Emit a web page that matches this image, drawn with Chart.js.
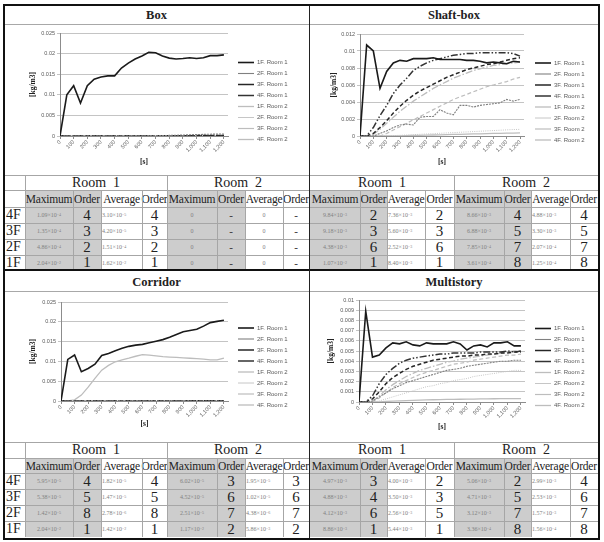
<!DOCTYPE html>
<html><head><meta charset="utf-8">
<script src="https://cdn.jsdelivr.net/npm/chart.js@4.4.0/dist/chart.umd.min.js"></script>
<style>
html,body{margin:0;padding:0;background:#fff;}
body{width:604px;height:542px;position:relative;overflow:hidden;font-family:"Liberation Serif","Times New Roman",serif;color:#222;}
.a{position:absolute;box-sizing:border-box;}
.t{position:absolute;font-family:"Liberation Serif",serif;font-weight:bold;font-size:12.5px;text-align:center;line-height:20px;}
.c{position:absolute;box-sizing:border-box;display:flex;align-items:center;justify-content:center;white-space:nowrap;overflow:visible;font-family:"Liberation Serif",serif;}
.v{font-size:6px;color:#808080;opacity:0.99;}
.v sup{font-size:4px;vertical-align:3px;line-height:0;}
.va{justify-content:flex-start;padding-left:1px;}
.o{font-size:15px;color:#222;}
.h{font-size:11.5px;color:#222;letter-spacing:-0.2px;}
.r{font-size:14px;color:#222;}
.rl{font-size:14px;color:#222;justify-content:flex-start;padding-left:2px;}
</style>
</head><body>
<script>
// ---------------- data ----------------
const T = [0,50,100,150,200,250,300,350,400,450,500,550,600,650,700,750,800,850,900,950,1000,1050,1100,1150,1200];
const XT = [0,100,200,300,400,500,600,700,800,900,1000,1100,1200];
const NAMES = ['1F. Room 1','2F. Room 1','3F. Room 1','4F. Room 1','1F. Room 2','2F. Room 2','3F. Room 2','4F. Room 2'];

// Box
const BOX_YT = [0,0.005,0.01,0.015,0.02,0.025];
const box_1F_R1 = [0,0.0100,0.0122,0.0080,0.0122,0.0138,0.0143,0.0146,0.0146,0.0165,0.0177,0.0187,0.0194,0.0203,0.0202,0.0194,0.0189,0.0187,0.0188,0.0190,0.0188,0.0190,0.0195,0.0195,0.0197];
const box_2F_R1 = [0,0,0,0,0,0,0,0,0,0,0,0,0.00001,0.00003,0.00006,0.0001,0.00014,0.00019,0.00024,0.0003,0.00035,0.0004,0.00044,0.00047,0.00049];
const box_3F_R1 = [0,0,0,0,0,0,0,0,0,0,0,0,0,0.00001,0.00002,0.00003,0.00005,0.00006,0.00008,0.00009,0.0001,0.00011,0.00012,0.00013,0.000135];
const box_4F_R1 = [0,0,0,0,0,0,0,0,0,0,0,0,0,0,0.00001,0.00002,0.00003,0.00004,0.00005,0.00006,0.00007,0.00008,0.00009,0.0001,0.000109];
const box_1F_R2 = [0,0,0,0,0,0,0,0,0,0,0,0,0,0,0,0,0,0,0,0,0,0,0,0,0];
const box_2F_R2 = [0,0,0,0,0,0,0,0,0,0,0,0,0,0,0,0,0,0,0,0,0,0,0,0,0];
const box_3F_R2 = [0,0,0,0,0,0,0,0,0,0,0,0,0,0,0,0,0,0,0,0,0,0,0,0,0];
const box_4F_R2 = [0,0,0,0,0,0,0,0,0,0,0,0,0,0,0,0,0,0,0,0,0,0,0,0,0];

// Shaft-box
const SH_YT = [0,0.002,0.004,0.006,0.008,0.01,0.012];
const sh_1F_R1 = [0,0.0107,0.0100,0.0056,0.0076,0.0086,0.0089,0.0088,0.0091,0.0091,0.0091,0.0092,0.0090,0.0090,0.0090,0.0090,0.0089,0.0089,0.0088,0.0086,0.0087,0.0086,0.0085,0.0088,0.0087];
const sh_2F_R1 = [0,0,0,0.0003,0.0006,0.0010,0.0013,0.0014,0.0013,0.0022,0.0023,0.0023,0.0031,0.0027,0.0025,0.0036,0.0036,0.0034,0.0036,0.0037,0.0038,0.0039,0.0043,0.0041,0.0043];
const sh_3F_R1 = [0,0,0.0003,0.0010,0.0018,0.0027,0.0035,0.0042,0.0048,0.0053,0.0057,0.0061,0.0065,0.0069,0.0072,0.0075,0.0078,0.0080,0.0082,0.0084,0.0085,0.0087,0.0089,0.0091,0.0092];
const sh_4F_R1 = [0,0,0.0010,0.0024,0.0036,0.0050,0.0060,0.0068,0.0077,0.0082,0.0086,0.0089,0.0091,0.0093,0.0095,0.0096,0.0097,0.0097,0.0098,0.0098,0.0098,0.0098,0.0098,0.0097,0.0094];
const sh_1F_R2 = [0,0,0,0,0,0.00001,0.00002,0.00004,0.00006,0.00008,0.0001,0.00012,0.00014,0.00016,0.00018,0.0002,0.00022,0.00024,0.00026,0.00028,0.0003,0.00031,0.00033,0.00035,0.00036];
const sh_2F_R2 = [0,0,0,0,0.00002,0.00005,0.00008,0.00012,0.00016,0.0002,0.00024,0.00028,0.00032,0.00036,0.0004,0.00044,0.00048,0.00052,0.00056,0.0006,0.00064,0.00068,0.00072,0.00076,0.00078];
const sh_3F_R2 = [0,0,0,0,0.0003,0.0007,0.0011,0.0015,0.0019,0.0023,0.0027,0.0031,0.0035,0.0039,0.0043,0.0046,0.0049,0.0052,0.0055,0.0058,0.0060,0.0062,0.0064,0.0067,0.0069];
const sh_4F_R2 = [0,0,0.0002,0.0008,0.0015,0.0022,0.0029,0.0035,0.0041,0.0046,0.0051,0.0056,0.0060,0.0064,0.0068,0.0071,0.0074,0.0077,0.0079,0.0081,0.0083,0.0084,0.0085,0.0086,0.0087];

// Corridor
const COR_YT = [0,0.005,0.01,0.015,0.02,0.025];
const cor_1F_R1 = [0,0.0105,0.0116,0.0074,0.0082,0.0093,0.0115,0.0120,0.0127,0.0133,0.0138,0.0141,0.0143,0.0147,0.0151,0.0155,0.0161,0.0168,0.0175,0.0178,0.0181,0.0189,0.0198,0.0201,0.0204];
const cor_2F_R1 = [0,0,0,0,0,0,0,0,0,0,0,0,0,0,0,0,0.000001,0.000002,0.000004,0.000006,0.000008,0.00001,0.000012,0.000013,0.0000142];
const cor_3F_R1 = [0,0,0,0,0,0,0,0,0,0,0,0,0.000002,0.000004,0.000007,0.00001,0.000014,0.000018,0.000023,0.000028,0.000033,0.000039,0.000045,0.00005,0.0000538];
const cor_4F_R1 = [0,0,0,0,0,0,0,0,0,0,0,0,0.000002,0.000005,0.000008,0.000012,0.000016,0.000021,0.000026,0.000032,0.000038,0.000044,0.00005,0.000055,0.0000595];
const cor_1F_R2 = [0,0,0.0003,0.0015,0.0035,0.0057,0.0078,0.0090,0.0099,0.0104,0.0108,0.0113,0.0117,0.0116,0.0114,0.0112,0.0111,0.0110,0.0109,0.0108,0.0107,0.0106,0.0104,0.0104,0.0108];
const cor_2F_R2 = [0,0,0,0,0,0,0,0,0,0,0,0,0,0,0.000002,0.000004,0.000006,0.000008,0.00001,0.000013,0.000016,0.000019,0.000022,0.000024,0.0000251];
const cor_3F_R2 = [0,0,0,0,0,0,0,0,0,0,0,0.000001,0.000003,0.000005,0.000008,0.000011,0.000015,0.000019,0.000023,0.000028,0.000033,0.000037,0.000041,0.000044,0.0000452];
const cor_4F_R2 = [0,0,0,0,0,0,0,0,0,0,0,0.000002,0.000004,0.000007,0.00001,0.000014,0.000019,0.000024,0.000029,0.000035,0.000041,0.000047,0.000053,0.000058,0.0000602];

// Multistory
const MS_YT = [0,0.001,0.002,0.003,0.004,0.005,0.006,0.007,0.008,0.009,0.01];
const ms_1F_R1 = [0,0.0089,0.0044,0.0046,0.0053,0.0058,0.0057,0.0059,0.0056,0.0055,0.0058,0.0057,0.0057,0.0057,0.0059,0.0057,0.0051,0.0055,0.0056,0.0054,0.0058,0.0058,0.0059,0.0055,0.0055];
const ms_2F_R1 = [0,0,0.0001,0.0005,0.0009,0.0013,0.0016,0.0019,0.0021,0.0023,0.0025,0.0027,0.0029,0.0031,0.0032,0.0033,0.0035,0.0036,0.0037,0.0038,0.0039,0.0040,0.0040,0.0041,0.0041];
const ms_3F_R1 = [0,0,0.0003,0.0010,0.0018,0.0024,0.0028,0.0032,0.0035,0.0037,0.0039,0.0041,0.0042,0.0043,0.0044,0.0045,0.0045,0.0046,0.0046,0.0047,0.0047,0.0048,0.0048,0.0049,0.0049];
const ms_4F_R1 = [0,0,0.0006,0.0018,0.0027,0.0033,0.0038,0.0041,0.0043,0.0044,0.0045,0.0046,0.0047,0.0047,0.0048,0.0048,0.0048,0.0048,0.0049,0.0049,0.0049,0.0049,0.0050,0.0049,0.0050];
const ms_1F_R2 = [0,0,0,0.00002,0.00005,0.00008,0.00011,0.00014,0.00016,0.00018,0.0002,0.00022,0.00024,0.00025,0.00026,0.00027,0.00028,0.00029,0.0003,0.00031,0.00032,0.00033,0.00033,0.00034,0.00034];
const ms_2F_R2 = [0,0,0,0.0001,0.0003,0.0005,0.0007,0.0009,0.0011,0.0013,0.0015,0.0016,0.0018,0.0019,0.0021,0.0022,0.0023,0.0025,0.0026,0.0027,0.0028,0.0029,0.0030,0.0031,0.0031];
const ms_3F_R2 = [0,0,0,0.0004,0.0009,0.0014,0.0018,0.0021,0.0024,0.0027,0.0029,0.0031,0.0033,0.0035,0.0037,0.0038,0.0039,0.0041,0.0042,0.0043,0.0044,0.0045,0.0046,0.0046,0.0047];
const ms_4F_R2 = [0,0,0.0001,0.0006,0.0012,0.0017,0.0021,0.0025,0.0028,0.0031,0.0033,0.0035,0.0037,0.0039,0.0040,0.0042,0.0043,0.0044,0.0045,0.0046,0.0047,0.0048,0.0049,0.0050,0.0050];

// Tables (rows: 4F, 3F, 2F, 1F)
const FLOORS = ['4F','3F','2F','1F'];
const box_R1_max = [1.09e-4,1.35e-4,4.86e-4,2.04e-2], box_R1_maxOrd = [4,3,2,1];
const box_R1_avg = [3.10e-5,4.20e-5,1.51e-4,1.62e-2], box_R1_avgOrd = [4,3,2,1];
const box_R2_max = [0,0,0,0], box_R2_maxOrd = ['-','-','-','-'];
const box_R2_avg = [0,0,0,0], box_R2_avgOrd = ['-','-','-','-'];
const sh_R1_max = [9.84e-3,9.18e-3,4.38e-3,1.07e-2], sh_R1_maxOrd = [2,3,6,1];
const sh_R1_avg = [7.36e-3,5.60e-3,2.52e-3,8.40e-3], sh_R1_avgOrd = [2,3,6,1];
const sh_R2_max = [8.66e-3,6.88e-3,7.85e-4,3.61e-4], sh_R2_maxOrd = [4,5,7,8];
const sh_R2_avg = [4.88e-3,3.30e-3,2.07e-4,1.25e-4], sh_R2_avgOrd = [4,5,7,8];
const cor_R1_max = [5.95e-5,5.38e-5,1.42e-5,2.04e-2], cor_R1_maxOrd = [4,5,8,1];
const cor_R1_avg = [1.82e-5,1.47e-5,2.78e-6,1.42e-2], cor_R1_avgOrd = [4,5,8,1];
const cor_R2_max = [6.02e-5,4.52e-5,2.51e-5,1.17e-2], cor_R2_maxOrd = [3,6,7,2];
const cor_R2_avg = [1.95e-5,1.02e-5,4.38e-6,5.86e-3], cor_R2_avgOrd = [3,6,7,2];
const ms_R1_max = [4.97e-3,4.88e-3,4.12e-3,8.86e-3], ms_R1_maxOrd = [3,4,6,1];
const ms_R1_avg = [4.00e-3,3.50e-3,2.56e-3,5.44e-3], ms_R1_avgOrd = [2,3,5,1];
const ms_R2_max = [5.06e-3,4.71e-3,3.12e-3,3.36e-4], ms_R2_maxOrd = [2,5,7,8];
const ms_R2_avg = [2.99e-3,2.53e-3,1.57e-3,1.56e-4], ms_R2_avgOrd = [4,6,7,8];

// ---------------- styles ----------------
const STY = [
  {c:'#1a1a1a', w:1.6, d:[]},
  {c:'#808080', w:1.1, d:[2,1]},
  {c:'#262626', w:1.5, d:[4,2.5]},
  {c:'#333333', w:1.5, d:[7,2,1.5,2,1.5,2]},
  {c:'#bdbdbd', w:1.3, d:[]},
  {c:'#c6c6c6', w:1.0, d:[1,1.2]},
  {c:'#bdbdbd', w:1.2, d:[4,2.5]},
  {c:'#bdbdbd', w:1.3, d:[7,2,1.5,2]}
];
const LEGW = 70;

Chart.defaults.font.family = '"Liberation Sans", Arial, sans-serif';

function makeChart(rect, yMax, YT, series, lay) {
  const cv = document.createElement('canvas');
  cv.width = rect.w; cv.height = rect.h;
  cv.style.cssText = 'position:absolute;left:'+rect.x+'px;top:'+rect.y+'px;width:'+rect.w+'px;height:'+rect.h+'px;';
  document.body.appendChild(cv);
  const legendFix = {
    id: 'legendFix',
    beforeUpdate(chart) {
      const lg = chart.legend;
      if (lg && !lg._fixed) {
        const f = lg.fit;
        lg.fit = function() { f.apply(this, arguments); this.width = LEGW; };
        lg._fixed = true;
      }
    },
    afterLayout(chart) {
      const lg = chart.legend;
      if (lg) { lg.left += lay.gap; lg.right += lay.gap; }
    }
  };
  new Chart(cv, {
    type: 'line',
    data: { datasets: series.map((s, i) => ({
      label: NAMES[i],
      data: T.map((t, k) => ({x: t, y: s[k]})),
      borderColor: STY[i].c, backgroundColor: STY[i].c,
      borderWidth: STY[i].w, borderDash: STY[i].d,
      pointRadius: 0, pointStyle: 'line', tension: 0, fill: false
    })) },
    plugins: [legendFix],
    options: {
      responsive: false, animation: false, devicePixelRatio: 1,
      layout: { padding: { top: lay.padTop, right: lay.padRight, left: 0, bottom: 0 } },
      plugins: {
        legend: { position: 'right', align: 'center',
          labels: { usePointStyle: true, pointStyleWidth: 16, boxHeight: 6, padding: 5, color: '#595959', font: { size: 6 } } },
        tooltip: { enabled: false }
      },
      scales: {
        x: { type: 'linear', min: 0, max: 1230,
          afterBuildTicks: s => { s.ticks = XT.map(v => ({value: v})); },
          ticks: { autoSkip: false, maxRotation: 45, minRotation: 45, color: '#595959', font: { size: 5.5 }, padding: 0,
            callback: v => Number(v).toLocaleString('en-US') },
          grid: { display: true, drawOnChartArea: false, drawTicks: true, tickLength: 3, color: '#8c8c8c' },
          border: { color: '#8c8c8c' },
          title: { display: true, text: '[s]', color: '#222', font: { family: '"Liberation Serif", serif', weight: 'bold', size: 7.5 }, padding: { top: 0, bottom: 2 } },
          afterFit: s => { s.height = lay.xH; }
        },
        y: { min: 0, max: yMax,
          afterBuildTicks: s => { s.ticks = YT.map(v => ({value: v})); },
          ticks: { color: '#595959', font: { size: 5.5 }, padding: 2, callback: v => String(+Number(v).toFixed(4)) },
          grid: { color: '#c4c4c4', tickLength: 3 },
          border: { color: '#8c8c8c' },
          title: { display: true, text: '[kg/m3]', color: '#222', font: { family: '"Liberation Serif", serif', weight: 'bold', size: 7.5 }, padding: { top: lay.yTitlePad, bottom: 0 } },
          afterFit: s => { s.width = lay.yW; }
        }
      }
    }
  });
}

// ---------------- frame & titles ----------------
function div(cls, css, html) {
  const d = document.createElement('div');
  d.className = cls; d.style.cssText = css; if (html !== undefined) d.innerHTML = html;
  document.body.appendChild(d); return d;
}
function hline(x1, x2, y, col, w) { div('a', 'left:'+x1+'px;top:'+y+'px;width:'+(x2-x1)+'px;height:'+(w||1)+'px;background:'+col+';'); }
function vline(x, y1, y2, col, w) { div('a', 'left:'+x+'px;top:'+y1+'px;width:'+(w||1)+'px;height:'+(y2-y1)+'px;background:'+col+';'); }

div('t', 'left:4px;top:5px;width:305px;', 'Box');
div('t', 'left:310px;top:5px;width:288px;', 'Shaft-box');
div('t', 'left:4px;top:272px;width:305px;', 'Corridor');
div('t', 'left:310px;top:272px;width:288px;', 'Multistory');
hline(4, 598, 24, '#a8a8a8');
hline(4, 598, 291, '#a8a8a8');

// ---------------- charts ----------------
makeChart({x:5, y:26, w:300, h:143}, 0.025, BOX_YT,
  [box_1F_R1, box_2F_R1, box_3F_R1, box_4F_R1, box_1F_R2, box_2F_R2, box_3F_R2, box_4F_R2],
  {padTop:7, padRight:7, xH:33, yW:55, gap:5, yTitlePad:23.5});
makeChart({x:311, y:26, w:286, h:143}, 0.012, SH_YT,
  [sh_1F_R1, sh_2F_R1, sh_3F_R1, sh_4F_R1, sh_1F_R2, sh_2F_R2, sh_3F_R2, sh_4F_R2],
  {padTop:8, padRight:3, xH:33, yW:49, gap:6, yTitlePad:18.5});
makeChart({x:5, y:293, w:300, h:138}, 0.025, COR_YT,
  [cor_1F_R1, cor_2F_R1, cor_3F_R1, cor_4F_R1, cor_1F_R2, cor_2F_R2, cor_3F_R2, cor_4F_R2],
  {padTop:9, padRight:7, xH:30, yW:56, gap:5, yTitlePad:23.5});
makeChart({x:311, y:293, w:286, h:141}, 0.01, MS_YT,
  [ms_1F_R1, ms_2F_R1, ms_3F_R1, ms_4F_R1, ms_1F_R2, ms_2F_R2, ms_3F_R2, ms_4F_R2],
  {padTop:7, padRight:2, xH:32, yW:48, gap:5, yTitlePad:15.5});

// ---------------- tables ----------------
function fmt(v) {
  if (v === 0) return '0';
  const p = v.toExponential(2).split('e');
  return p[0] + '\u00d710<sup>\u2212' + String(Math.abs(+p[1])) + '</sup>';
}
const GRAY = '#cdcdcd', LINE = '#a6a6a6';
const DASH = '<b style="font-size:11px;color:#444">-</b>';
function cell(x1, x2, y1, y2, cls, html, bg) {
  div('c ' + cls, 'left:'+x1+'px;top:'+y1+'px;width:'+(x2-x1)+'px;height:'+(y2-y1)+'px;' + (bg ? 'background:'+bg+';' : ''), html);
}
function buildTable(cols, ry, label, groups) {
  const off = label ? 1 : 0;
  const xL = cols[0], xR = cols[cols.length-1];
  groups.forEach((g, gi) => {
    const b = off + gi*4;
    cell(cols[b], cols[b+4], ry[0], ry[1], 'r', 'Room&nbsp; ' + (gi+1));
    ['Maximum','Order','Average','Order'].forEach((h, k) => {
      cell(cols[b+k], cols[b+k+1], ry[1], ry[2], 'h', h, k < 2 ? GRAY : null);
    });
    for (let r = 0; r < 4; r++) {
      const y1 = ry[r+2], y2 = ry[r+3];
      cell(cols[b], cols[b+1], y1, y2, 'v', fmt(g.max[r]), GRAY);
      cell(cols[b+1], cols[b+2], y1, y2, 'o', g.maxOrd[r] === '-' ? DASH : g.maxOrd[r], GRAY);
      cell(cols[b+2], cols[b+3], y1, y2, g.avg[r] === 0 ? 'v' : 'v va', fmt(g.avg[r]));
      cell(cols[b+3], cols[b+4], y1, y2, 'o', g.avgOrd[r] === '-' ? DASH : g.avgOrd[r]);
    }
  });
  if (label) {
    for (let r = 0; r < 4; r++) cell(cols[0], cols[1], ry[r+2], ry[r+3], 'rl', FLOORS[r]);
  }
  for (let i = 0; i < ry.length - 1; i++) hline(xL, xR, ry[i], LINE);
  cols.forEach((x, i) => {
    if (i === 0 && label) return;
    if (x >= 309 && x <= 310) return;
    const isGroup = (i - off) % 4 === 0 || (label && i === 1);
    vline(x, isGroup ? ry[0] : ry[1], ry[ry.length-1], LINE);
  });
}
const LEFT_COLS = [4,25,73,101,142,167,217,245,283,309];
const RIGHT_COLS = [310,360,387,425,454,504,531,570,598];
const TOP_RY = [175,190,207,223,239,255,270];
const BOT_RY = [442,458,473,489,505,521,537];

buildTable(LEFT_COLS, TOP_RY, true, [
  {max: box_R1_max, maxOrd: box_R1_maxOrd, avg: box_R1_avg, avgOrd: box_R1_avgOrd},
  {max: box_R2_max, maxOrd: box_R2_maxOrd, avg: box_R2_avg, avgOrd: box_R2_avgOrd}]);
buildTable(RIGHT_COLS, TOP_RY, false, [
  {max: sh_R1_max, maxOrd: sh_R1_maxOrd, avg: sh_R1_avg, avgOrd: sh_R1_avgOrd},
  {max: sh_R2_max, maxOrd: sh_R2_maxOrd, avg: sh_R2_avg, avgOrd: sh_R2_avgOrd}]);
buildTable(LEFT_COLS, BOT_RY, true, [
  {max: cor_R1_max, maxOrd: cor_R1_maxOrd, avg: cor_R1_avg, avgOrd: cor_R1_avgOrd},
  {max: cor_R2_max, maxOrd: cor_R2_maxOrd, avg: cor_R2_avg, avgOrd: cor_R2_avgOrd}]);
buildTable(RIGHT_COLS, BOT_RY, false, [
  {max: ms_R1_max, maxOrd: ms_R1_maxOrd, avg: ms_R1_avg, avgOrd: ms_R1_avgOrd},
  {max: ms_R2_max, maxOrd: ms_R2_maxOrd, avg: ms_R2_avg, avgOrd: ms_R2_avgOrd}]);

hline(4, 598, 269, '#111', 2);
vline(309, 4, 539, '#222', 1);
div('a', 'left:3px;top:4px;width:597px;height:536px;border:2px solid #111;');
</script>
</body></html>
